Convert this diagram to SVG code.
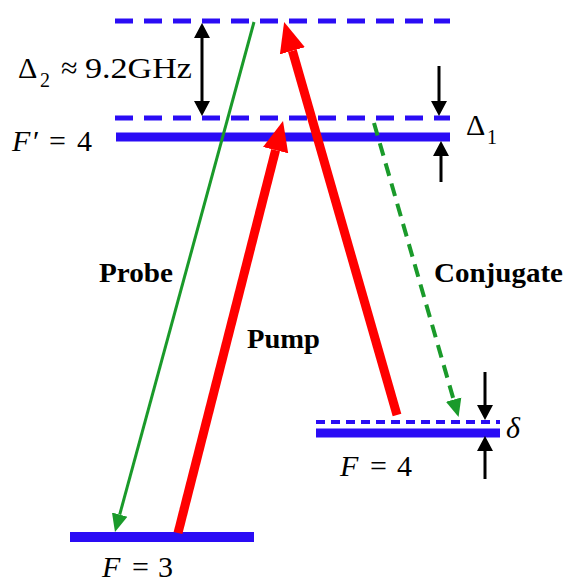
<svg xmlns="http://www.w3.org/2000/svg" width="566" height="585" viewBox="0 0 566 585">
<style>
.lvl{stroke:#2a0cf5;fill:none}
.dash{stroke-width:5;stroke-dasharray:18 11}
.solid{stroke-width:9}
.blk{stroke:#000;stroke-width:3;fill:none}
.red{stroke:#ff0000;stroke-width:9;fill:none}
.t{font-family:"Liberation Serif","Times New Roman",serif;fill:#000;font-size:30px}
.i{font-style:italic}
.s{font-size:20px}
.b{font-family:"Liberation Serif","Times New Roman",serif;font-weight:bold;font-size:28px;fill:#000}
</style>
<defs>
<marker id="hr" markerUnits="userSpaceOnUse" viewBox="0 -14 32 28" markerWidth="32" markerHeight="28" refX="0" refY="0" orient="auto"><path d="M0,-13 L30,0 L0,13 z" fill="#ff0000"/></marker>
<marker id="hg" markerUnits="userSpaceOnUse" viewBox="0 -9 20 18" markerWidth="20" markerHeight="18" refX="0" refY="0" orient="auto"><path d="M0,-8 L18,0 L0,8 z" fill="#1a9a2a"/></marker>
<marker id="hk" markerUnits="userSpaceOnUse" viewBox="0 -9 18 18" markerWidth="18" markerHeight="18" refX="0" refY="0" orient="auto"><path d="M0,-8 L15,0 L0,8 z" fill="#000"/></marker>
</defs>
<g id="upper-virtual"><line class="lvl dash" x1="115" y1="21" x2="450" y2="21"/></g>
<g id="Fp4-virtual"><line class="lvl dash" x1="115" y1="118" x2="450" y2="118"/></g>
<g id="Fp4"><line class="lvl solid" x1="116" y1="137" x2="450" y2="137"/>
<text class="t" y="151"><tspan class="i" x="12">F</tspan><tspan x="33">′</tspan><tspan x="49">=</tspan><tspan x="77">4</tspan></text></g>
<g id="F4-virtual"><line class="lvl" stroke-width="4" stroke-dasharray="9 6" x1="316" y1="422" x2="500" y2="422"/></g>
<g id="F4"><line class="lvl solid" x1="316" y1="433" x2="500" y2="433"/>
<text class="t" y="476"><tspan class="i" x="340">F</tspan><tspan x="370">=</tspan><tspan x="397">4</tspan></text></g>
<g id="F3"><line class="lvl" stroke-width="10" x1="70" y1="537" x2="254" y2="537"/>
<text class="t" y="577"><tspan class="i" x="102">F</tspan><tspan x="132">=</tspan><tspan x="158">3</tspan></text></g>
<g id="connectors">
<line stroke="#1a9a2a" stroke-width="3" x1="254" y1="22" x2="119.7" y2="514.6" marker-end="url(#hg)"/>
<line class="red" x1="178" y1="533" x2="275.6" y2="150.1" marker-end="url(#hr)"/>
<line class="red" x1="397" y1="415" x2="292.4" y2="50.8" marker-end="url(#hr)"/>
<line stroke="#1a9a2a" stroke-width="4" stroke-dasharray="13 8" x1="374" y1="123" x2="453.6" y2="399.6" marker-end="url(#hg)"/>
<line class="blk" x1="202" y1="70" x2="202" y2="38" marker-end="url(#hk)"/>
<line class="blk" x1="202" y1="70" x2="202" y2="101" marker-end="url(#hk)"/>
<line class="blk" x1="439" y1="66" x2="439" y2="101" marker-end="url(#hk)"/>
<line class="blk" x1="441" y1="182" x2="441" y2="156" marker-end="url(#hk)"/>
<line class="blk" x1="485" y1="372" x2="485" y2="405" marker-end="url(#hk)"/>
<line class="blk" x1="485" y1="479" x2="485" y2="451" marker-end="url(#hk)"/>
</g>
<g id="labels">
<text class="t" y="78"><tspan x="18">Δ</tspan><tspan class="s" x="40" y="87">2</tspan><tspan x="61" y="78">≈</tspan><tspan x="85" textLength="107" lengthAdjust="spacingAndGlyphs">9.2GHz</tspan></text>
<text class="t" y="135"><tspan x="466">Δ</tspan><tspan class="s" x="487" y="144">1</tspan></text>
<text class="t i" x="506" y="438">δ</text>
<text class="b" x="99" y="282" textLength="74" lengthAdjust="spacingAndGlyphs">Probe</text>
<text class="b" x="247" y="348" textLength="73" lengthAdjust="spacingAndGlyphs">Pump</text>
<text class="b" x="434" y="282" textLength="129" lengthAdjust="spacingAndGlyphs">Conjugate</text>
</g>
</svg>
